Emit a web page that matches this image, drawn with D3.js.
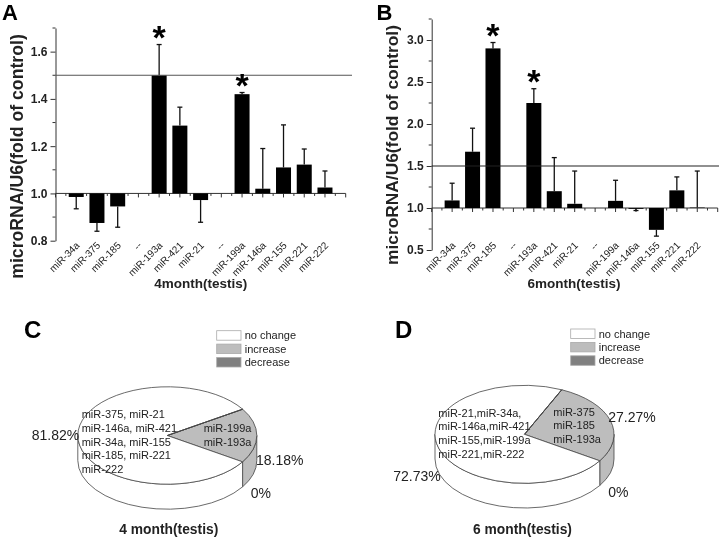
<!DOCTYPE html>
<html><head><meta charset="utf-8">
<script src="https://cdn.jsdelivr.net/npm/d3@7/dist/d3.min.js"></script>
<style>html,body{margin:0;background:#fff}svg{display:block;filter:blur(0.4px)}text{font-family:"Liberation Sans",Arial,sans-serif;fill:#222}</style>
</head><body><svg width="720" height="539"></svg>
<script>
const categories=["miR-34a","miR-375","miR-185","--","miR-193a","miR-421","miR-21","--","miR-199a","miR-146a","miR-155","miR-221","miR-222"];
const valuesA=[0.985,0.875,0.945,null,1.5,1.287,0.972,null,1.42,1.02,1.11,1.122,1.025];
const errorEndA=[0.935,0.84,0.857,null,1.63,1.365,0.878,null,1.427,1.19,1.29,1.188,1.095];
const starsA=[4,8];
const valuesB=[1.09,1.67,2.9,null,2.25,1.2,1.05,null,1.085,0.99,0.74,1.21,1.005];
const errorEndB=[1.295,1.95,2.97,null,2.42,1.6,1.44,null,1.33,0.97,0.665,1.37,1.44];
const starsB=[2,4];
const ticksA=[0.8,1.0,1.2,1.4,1.6];
const ticksB=[0.5,1.0,1.5,2.0,2.5,3.0];
const threshold=1.5;
const pieValuesC=[18.18,81.82,0];
const pieValuesD=[27.27,72.73,0];
const pieLabels=["increase","no change","decrease"];
const legendLabels=["no change","increase","decrease"];
const listC=["miR-375, miR-21","miR-146a, miR-421","miR-34a, miR-155","miR-185, miR-221","miR-222"];
const upC=["miR-199a","miR-193a"];
const listD=["miR-21,miR-34a,","miR-146a,miR-421","miR-155,miR-199a","miR-221,miR-222"];
const upD=["miR-375","miR-185","miR-193a"];
const colors={"no change":"#fff","increase":"#bdbdbd","decrease":"#808080"};
const svg=d3.select("svg");
const txt=(g,s,x,y,size,o={})=>g.append("text").attr("x",x).attr("y",y).attr("font-size",size).attr("font-weight",o.bold?"bold":null).attr("text-anchor",o.anchor||"start").attr("transform",o.rot!=null?`rotate(${o.rot} ${x} ${y})`:null).text(s);

function barPanel(c){
  const g=svg.append("g");
  const x=d3.scaleLinear().domain([0,categories.length+1]).range([c.x0,c.x1]);
  const y=d3.scaleLinear().domain(c.domain).range([c.yb,c.yt]);
  const axisCol="#333";
  const yAxis=g.append("g").attr("transform",`translate(${c.x0},0)`).call(d3.axisLeft(y).tickValues(c.ticks).tickFormat(d3.format(".1f")).tickSize(5).tickSizeOuter(0));
  yAxis.selectAll("text").attr("font-size",12).attr("font-weight","bold").attr("font-family",null).style("fill","#222").attr("x",-8);
  yAxis.select(".domain").attr("stroke",axisCol).attr("stroke-width",1);
  yAxis.selectAll("line").attr("stroke",axisCol);
  const minor=d3.range(c.domain[0],c.domain[1]+1e-6,c.minor).filter(v=>!c.ticks.some(t=>Math.abs(t-v)<1e-6));
  g.selectAll(".my").data(minor).join("line").attr("x1",c.x0-3).attr("x2",c.x0).attr("y1",d=>y(d)).attr("y2",d=>y(d)).attr("stroke",axisCol);
  const y1=y(1);
  g.append("line").attr("x1",c.x0).attr("x2",c.x1).attr("y1",y1).attr("y2",y1).attr("stroke",axisCol);
  const tk=d3.range(0,categories.length+1.01,0.5);
  g.selectAll(".xt").data(tk).join("line").attr("x1",d=>x(d)).attr("x2",d=>x(d)).attr("y1",y1).attr("y2",d=>y1+(d%1?2.5:4)).attr("stroke",axisCol);
  const bw=c.bw;
  const idx=d3.range(categories.length).filter(i=>c.values[i]!=null);
  g.selectAll(".err").data(idx).join("line").attr("x1",i=>x(i+1)).attr("x2",i=>x(i+1)).attr("y1",i=>y(c.values[i])).attr("y2",i=>y(c.err[i])).attr("stroke","#111").attr("stroke-width",1.3);
  g.selectAll(".cap").data(idx).join("line").attr("x1",i=>x(i+1)-2.5).attr("x2",i=>x(i+1)+2.5).attr("y1",i=>y(c.err[i])).attr("y2",i=>y(c.err[i])).attr("stroke","#111").attr("stroke-width",1.3);
  g.selectAll(".bar").data(idx).join("rect").attr("x",i=>x(i+1)-bw/2).attr("width",bw).attr("y",i=>Math.min(y(c.values[i]),y1)).attr("height",i=>Math.abs(y(c.values[i])-y1)).attr("fill","#000");
  g.append("line").attr("x1",c.x0).attr("x2",c.lineEnd).attr("y1",y(threshold)).attr("y2",y(threshold)).attr("stroke",c.lineCol).attr("stroke-width",1.2);
  categories.forEach((n,i)=>txt(g,n,x(i+1)+4,c.yLab,10,{anchor:"end",rot:-45}));
  c.stars.forEach(i=>txt(g,"*",x(i+1),y(c.err[i])+c.starDy,34,{anchor:"middle",bold:true}).style("fill","#000"));
  txt(g,c.xTitle,c.xtx,288,13.5,{anchor:"middle",bold:true});
  txt(g,c.yTitle,c.ytx,c.yty,c.yts,{anchor:"middle",bold:true,rot:-90});
  txt(g,c.letter,c.lx,c.ly,c.lfs,{bold:true}).style("fill","#000");
}
barPanel({x0:55.5,x1:345.7,yb:240.7,yt:28,domain:[0.8,1.7],ticks:ticksA,minor:0.1,values:valuesA,err:errorEndA,stars:starsA,bw:15,lineEnd:352,lineCol:"#555",yLab:246,starDy:4,xTitle:"4month(testis)",xtx:200.7,yTitle:"microRNA/U6(fold of control)",ytx:23,yty:156.5,yts:17.7,letter:"A",lx:2,ly:20,lfs:22});
barPanel({x0:431.7,x1:717.7,yb:250,yt:19,domain:[0.5,3.25],ticks:ticksB,minor:0.25,values:valuesB,err:errorEndB,stars:starsB,bw:15,lineEnd:719,lineCol:"#222",yLab:246,starDy:4,xTitle:"6month(testis)",xtx:574,yTitle:"microRNA/U6(fold of control)",ytx:398,yty:145,yts:17.35,letter:"B",lx:376.5,ly:20,lfs:22});

function piePanel(c){
  const g=svg.append("g");
  const start=c.start*Math.PI/180;
  const arcs=d3.pie().sort(null).value(d=>d).startAngle(start).endAngle(start+2*Math.PI)(c.values);
  const px=a=>c.cx+c.rx*Math.sin(a), py=a=>c.cy-c.ry*Math.cos(a);
  const side=(a,b)=>{
    const s=Math.max(a,Math.PI/2),e=Math.min(b,1.5*Math.PI);
    if(e<=s) return null;
    return `M${px(s)},${py(s)}A${c.rx},${c.ry} 0 0 1 ${px(e)},${py(e)}L${px(e)},${py(e)+c.depth}A${c.rx},${c.ry} 0 0 0 ${px(s)},${py(s)+c.depth}Z`;
  };
  arcs.forEach((d,i)=>{
    const p=side(d.startAngle,d.endAngle);
    if(p) g.append("path").attr("d",p).attr("fill",colors[pieLabels[i]]).attr("stroke","#444").attr("stroke-width",0.8);
  });
  const arc=d3.arc().innerRadius(0).outerRadius(1);
  g.selectAll(".s").data(arcs).join("path").attr("d",arc).attr("transform",`translate(${c.cx},${c.cy}) scale(${c.rx},${c.ry})`).attr("fill",(d,i)=>colors[pieLabels[i]]).attr("stroke","#444").attr("stroke-width",0.8).attr("vector-effect","non-scaling-stroke");
  legendLabels.forEach((n,i)=>{
    g.append("rect").attr("x",c.lgx).attr("y",c.lgy+i*13.4).attr("width",24.3).attr("height",9.5).attr("fill",colors[n]).attr("stroke","#aaa").attr("stroke-width",0.8);
    txt(g,n,c.lgx+28,c.lgy+8.6+i*13.4,11);
  });
  c.list.forEach((s,i)=>txt(g,s,c.lx,c.ly+i*c.ldy,11));
  c.up.forEach((s,i)=>txt(g,s,c.ux,c.uy+i*13.4,11));
  c.pct.forEach(p=>txt(g,p[0],p[1],p[2],14));
  txt(g,c.title,c.tx,534,13.8,{anchor:"middle",bold:true});
  txt(g,c.letter,c.px,c.py,24,{bold:true}).style("fill","#000");
}
piePanel({cx:167.3,cy:435.5,rx:89.5,ry:48.7,depth:25,start:57.3,values:pieValuesC,lgx:216.7,lgy:330.7,list:listC,lx:81.7,ly:418.3,ldy:13.7,up:upC,ux:203.7,uy:432.3,pct:[["81.82%",31.7,440],["18.18%",256,465],["0%",250.7,498.3]],title:"4 month(testis)",tx:168.8,letter:"C",px:24,py:338});
piePanel({cx:524.5,cy:434.3,rx:89.5,ry:49,depth:24.7,start:24.6,values:pieValuesD,lgx:570.7,lgy:329,list:listD,lx:438.3,ly:416.7,ldy:13.7,up:upD,ux:553.3,uy:416,pct:[["27.27%",608.3,422.3],["72.73%",393.3,481],["0%",608.3,497.3]],title:"6 month(testis)",tx:522.5,letter:"D",px:395,py:338});
</script></body></html>
